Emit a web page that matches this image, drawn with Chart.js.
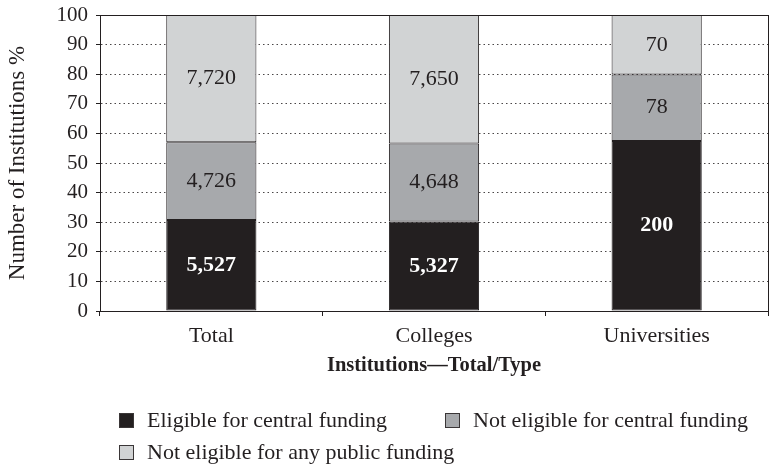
<!DOCTYPE html>
<html>
<head>
<meta charset="utf-8">
<script src="https://cdn.jsdelivr.net/npm/chart.js@4.4.0/dist/chart.umd.min.js"></script>
<style>
  html, body { margin: 0; padding: 0; background: #fff; }
  #wrap { position: relative; width: 770px; height: 467px; }
  #legend { position: absolute; left: 0; top: 0; width: 770px; height: 467px; pointer-events: none;
            font-family: "Liberation Serif", serif; font-size: 22px; color: #231f20; }
  .item { position: absolute; display: flex; align-items: center; white-space: nowrap; }
  .box { width: 13px; height: 13px; border: 1px solid #3a3637; margin-right: 13px; }
</style>
</head>
<body>
<div id="wrap">
  <canvas id="chart" width="770" height="467"></canvas>
  <div id="legend"></div>
</div>
<script>
const categories = ["Total", "Colleges", "Universities"]
const seriesNames = ["Eligible for central funding", "Not eligible for central funding", "Not eligible for any public funding"]
const eligibleCentral = [5527, 5327, 200]
const notEligibleCentral = [4726, 4648, 78]
const notEligiblePublic = [7720, 7650, 70]
const yTicks = [0, 10, 20, 30, 40, 50, 60, 70, 80, 90, 100]
const colors = ["#231f20", "#a7a9ac", "#d1d3d4"]

const counts = [eligibleCentral, notEligibleCentral, notEligiblePublic]
const totals = categories.map((_, i) => counts.reduce((s, arr) => s + arr[i], 0))
const pct = arr => arr.map((v, i) => v / totals[i] * 100)

const ink = "#231f20"
const serif = "'Liberation Serif', serif"

// numbers inside each stacked segment
const segmentLabels = {
    id: "segmentLabels",
    afterDatasetsDraw(chart){
        const ctx = chart.ctx
        chart.data.datasets.forEach((ds, di) => {
            const meta = chart.getDatasetMeta(di)
            meta.data.forEach((bar, i) => {
                ctx.save()
                ctx.font = (di === 0 ? "bold " : "") + "22px " + serif
                ctx.fillStyle = di === 0 ? "#ffffff" : ink
                ctx.textAlign = "center"
                ctx.textBaseline = "middle"
                ctx.fillText(ds.counts[i].toLocaleString("en-US"), bar.x, (bar.y + bar.base) / 2)
                ctx.restore()
            })
        })
    }
}

// box round the plot area
const frame = {
    id: "frame",
    afterDatasetsDraw(chart){
        const { ctx, chartArea: a } = chart
        ctx.save()
        ctx.strokeStyle = ink
        ctx.lineWidth = 1
        ctx.strokeRect(Math.round(a.left) + 0.5, Math.round(a.top) + 0.5, Math.round(a.right - a.left), Math.round(a.bottom - a.top))
        ctx.restore()
    }
}

const chart = new Chart(document.getElementById("chart"), {
    type: "bar",
    data: {
        labels: categories,
        datasets: counts.map((arr, di) => ({
            label: seriesNames[di],
            data: pct(arr),
            counts: arr,
            backgroundColor: colors[di],
            borderColor: ink,
            borderWidth: 1,
            borderSkipped: false,
            categoryPercentage: 1,
            barPercentage: 0.405,
        }))
    },
    options: {
        responsive: false,
        animation: false,
        layout: { padding: { left: 0, top: 15, right: 2, bottom: 84 } },
        plugins: {
            legend: { display: false },
            tooltip: { enabled: false },
        },
        scales: {
            x: {
                stacked: true,
                afterFit: s => { s.height = 72 },
                grid: { drawOnChartArea: false, drawTicks: true, tickLength: 5, color: ink, tickColor: ink },
                border: { display: true, color: ink },
                ticks: { color: ink, padding: 7, font: { family: serif, size: 22 } },
                title: {
                    display: true,
                    text: "Institutions—Total/Type",
                    color: ink,
                    padding: { top: 0, bottom: 5 },
                    font: { family: serif, size: 20.5, weight: "bold" }
                }
            },
            y: {
                stacked: true,
                min: 0,
                max: 100,
                afterFit: s => { s.width = 100; s.paddingTop = 0; s.paddingBottom = 0 },
                afterBuildTicks: s => { s.ticks = yTicks.map(v => ({ value: v })) },
                grid: { color: "#4a4647", lineWidth: 1, tickLength: 4, tickColor: ink, tickBorderDash: [] },
                border: { display: true, color: ink, dash: [1.5, 3] },
                ticks: { color: ink, padding: 8, font: { family: serif, size: 21 } },
                title: {
                    display: true,
                    text: "Number of Institutions %",
                    color: ink,
                    padding: { top: 4, bottom: 0 },
                    font: { family: serif, size: 23 }
                }
            }
        }
    },
    plugins: [segmentLabels, frame]
})

// legend laid out like the original: two on the first row, one on the second
const legendPos = [[119, 420], [445, 420], [119, 452]]
const legend = document.getElementById("legend")
seriesNames.forEach((name, i) => {
    const el = document.createElement("div")
    el.className = "item"
    el.style.left = legendPos[i][0] + "px"
    el.style.top = (legendPos[i][1] - 13) + "px"
    el.style.height = "26px"
    el.innerHTML = '<span class="box" style="background:' + colors[i] + '"></span><span>' + name + '</span>'
    legend.appendChild(el)
})
</script>
</body>
</html>
